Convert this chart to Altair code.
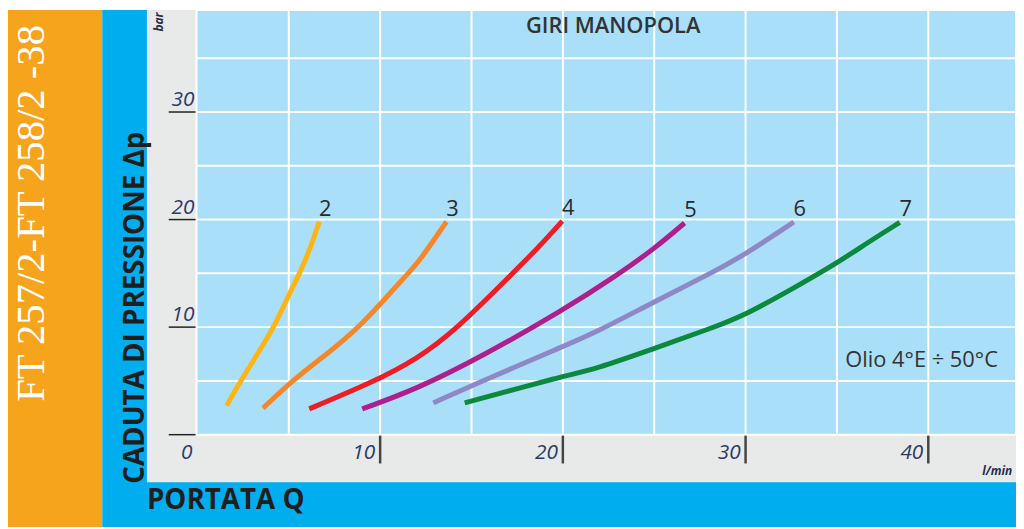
import altair as alt
import pandas as pd

# ---- data (Q in l/min, dp in bar) ----
series_names = ["2", "3", "4", "5", "6", "7"]
series_colors = ["#FDB515", "#F6862A", "#EE1D25", "#AE1F8E", "#8F88C7", "#0B8A3D"]

q_2 = [1.60, 2.32, 4.19, 4.95, 5.58, 6.14, 6.67]
p_2 = [2.70, 4.92, 9.87, 12.85, 14.92, 17.16, 19.80]

q_3 = [3.59, 5.12, 6.94, 8.84, 11.46, 12.00, 13.63]
p_3 = [2.46, 4.92, 7.32, 9.87, 14.92, 15.77, 19.80]

q_4 = [6.12, 9.65, 12.00, 14.17, 17.25, 18.70, 19.97]
p_4 = [2.40, 4.92, 7.01, 9.78, 15.01, 17.46, 19.86]

q_5 = [9.02, 12.00, 15.62, 20.05, 22.86, 25.03, 26.66]
p_5 = [2.40, 4.24, 7.32, 11.62, 14.70, 17.32, 19.68]

q_6 = [12.91, 14.99, 20.05, 21.77, 25.03, 28.29, 30.01, 32.64]
p_6 = [2.95, 4.55, 8.24, 9.47, 12.39, 15.16, 16.80, 19.77]

q_7 = [14.63, 20.05, 21.77, 25.03, 28.20, 30.01, 32.64, 34.98, 36.61, 38.44]
p_7 = [2.95, 5.47, 6.09, 8.03, 9.94, 11.16, 13.63, 15.93, 17.78, 19.74]

x_tick_values = [0, 10, 20, 30, 40]
x_tick_labels = ["0", "10", "20", "30", "40"]
y_tick_values = [0, 10, 20, 30]
y_label_values = [10, 20, 30]
y_label_texts = ["10", "20", "30"]
x_grid_values = [5, 10, 15, 20, 25, 30, 35, 40]
y_grid_values = [5, 10, 15, 20, 25, 30, 35]

title_text = "GIRI MANOPOLA"
y_title = "CADUTA DI PRESSIONE Δp"
x_title = "PORTATA Q"
side_text = "FT 257/2-FT 258/2 -38"
note_text = "Olio 4°E ÷ 50°C"
y_unit = "bar"
x_unit = "l/min"

# ---- tables ----
all_q = [q_2, q_3, q_4, q_5, q_6, q_7]
all_p = [p_2, p_3, p_4, p_5, p_6, p_7]
rows = []
for name, qs, ps in zip(series_names, all_q, all_p):
    for i, (q, p) in enumerate(zip(qs, ps)):
        rows.append({"serie": name, "q": q, "p": p, "i": i})
curves = pd.DataFrame(rows)
ends = pd.DataFrame({"serie": series_names,
                     "q": [qs[-1] for qs in all_q],
                     "p": [ps[-1] for ps in all_p]})
xt = pd.DataFrame({"v": x_tick_values, "lab": x_tick_labels})
yt = pd.DataFrame({"v": y_tick_values})
yl = pd.DataFrame({"v": y_label_values, "lab": y_label_texts})
xg = pd.DataFrame({"v": x_grid_values})
yg = pd.DataFrame({"v": y_grid_values})
one = pd.DataFrame({"k": [0]})

W, H = 826, 428
xs = alt.Scale(domain=[-0.05, 44.8], nice=False, zero=False)
ys = alt.Scale(domain=[0, 39.48], nice=False, zero=False)

FONT = "Open Sans"
LABEL_COLOR = "#2B3A67"
TEXT_COLOR = "#2A2A2A"


def band(x1, x2, y1, y2, color, **kw):
    return alt.Chart(one).mark_rect(color=color, **kw).encode(
        x=alt.value(x1), x2=alt.value(x2), y=alt.value(y1), y2=alt.value(y2))


orange_band = band(-190, -95, 0, 521, "#F7A41D")
blue_band = band(-95, W, 0, 521, "#00AEEF")
grey_panel = band(-50, W, 0, 476, "#E8EAEA")
plot_bg = band(0, W, 0, H, "#A9DFF8", stroke="white", strokeWidth=2)

x_grid = alt.Chart(xg).mark_rule(color="white", strokeWidth=2).encode(
    x=alt.X("v:Q", scale=xs, axis=None), y=alt.value(0), y2=alt.value(H))
y_grid = alt.Chart(yg).mark_rule(color="white", strokeWidth=2).encode(
    y=alt.Y("v:Q", scale=ys, axis=None), x=alt.value(0), x2=alt.value(W))

lines = alt.Chart(curves).mark_line(
    interpolate="basis", strokeWidth=5, strokeCap="butt", clip=True
).encode(
    x=alt.X("q:Q", scale=xs, axis=None),
    y=alt.Y("p:Q", scale=ys, axis=None),
    color=alt.Color("serie:N", scale=alt.Scale(domain=series_names, range=series_colors),
                    legend=None),
    order="i:Q",
)

end_labels = alt.Chart(ends).mark_text(
    font=FONT, fontSize=22, color=TEXT_COLOR, align="center", baseline="alphabetic",
    dx=6, dy=-6
).encode(
    x=alt.X("q:Q", scale=xs, axis=None),
    y=alt.Y("p:Q", scale=ys, axis=None),
    text="serie:N",
)

x_ticks = alt.Chart(xt[xt.v > 0]).mark_rule(color="#444444", strokeWidth=2.5).encode(
    x=alt.X("v:Q", scale=xs, axis=None), y=alt.value(429), y2=alt.value(457))
x_labels = alt.Chart(xt).mark_text(
    font=FONT, fontSize=21, fontStyle="italic", color=LABEL_COLOR,
    align="right", baseline="alphabetic", dx=-5
).encode(x=alt.X("v:Q", scale=xs, axis=None), y=alt.value(453), text="lab:N")

y_ticks = alt.Chart(yt).mark_rule(color="#222222", strokeWidth=1.5).encode(
    y=alt.Y("v:Q", scale=ys, axis=None), x=alt.value(-28), x2=alt.value(-1))
y_labels = alt.Chart(yl).mark_text(
    font=FONT, fontSize=21, fontStyle="italic", color=LABEL_COLOR,
    align="right", baseline="alphabetic", dy=-6
).encode(y=alt.Y("v:Q", scale=ys, axis=None), x=alt.value(-2), text="lab:N")


def label(text, x, y, **kw):
    return alt.Chart(one).mark_text(text=text, **kw).encode(x=alt.value(x), y=alt.value(y))


title = label(title_text, 420, 23, font=FONT, fontSize=22, fontWeight=600,
              color="#333333", align="center", baseline="alphabetic")
note = label(note_text, 654, 360, font=FONT, fontSize=22, color="#333333",
             align="left", baseline="alphabetic")
ytitle = label(y_title, -53, 300, font=FONT, fontSize=28, fontWeight="bold",
               color="#1E1E1E", angle=270, align="center", baseline="alphabetic")
xtitle = label(x_title, -50, 503, font=FONT, fontSize=28, fontWeight="bold",
               color="#1E1E1E", align="left", baseline="alphabetic")
side = label(side_text, -154, 205, font="Liberation Serif", fontSize=41,
             color="#FFFFFF", angle=270, align="center", baseline="alphabetic")
yunit = label(y_unit, -34, 12, font=FONT, fontSize=12, fontStyle="italic",
              fontWeight="bold", color="#2B2A4A", angle=270, align="center",
              baseline="alphabetic")
xunit = label(x_unit, 792, 469, font=FONT, fontSize=12, fontStyle="italic",
              fontWeight="bold", color="#2B2A4A", align="left", baseline="alphabetic")

chart = alt.layer(
    orange_band, blue_band, grey_panel, plot_bg, x_grid, y_grid,
    lines, end_labels, x_ticks, x_labels, y_ticks, y_labels,
    title, note, ytitle, xtitle, side, yunit, xunit,
).properties(
    width=W, height=H,
    padding={"left": 190, "top": 0, "right": 0, "bottom": 93},
    autosize=alt.AutoSizeParams(type="none"),
).configure_view(
    strokeWidth=0
)

chart.save("out.html", embed_options={"renderer": "svg", "actions": False})
